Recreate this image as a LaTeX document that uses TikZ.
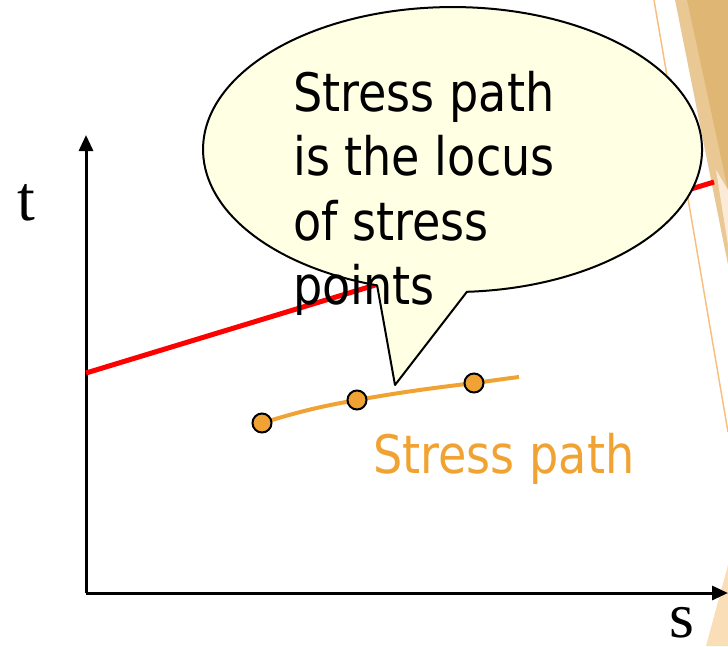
\documentclass[tikz,border=0pt]{standalone}
\usepackage{fontspec}
\setmainfont{Liberation Serif}
\newfontfamily\tah[FakeStretch=0.87]{DejaVu Sans}
\usetikzlibrary{arrows.meta}
\definecolor{calloutfill}{RGB}{255,255,228}
\definecolor{pathorange}{RGB}{240,163,50}
\definecolor{decoline}{RGB}{248,192,128}
\definecolor{darktan}{RGB}{224,182,116}
\definecolor{lighttan}{RGB}{234,200,148}
\definecolor{paletan}{RGB}{250,234,214}
\definecolor{peach}{RGB}{249,222,184}
\tikzset{
  axisline/.style={line width=3pt,-{Triangle[length=16pt,width=14pt]}},
  envelope/.style={red,line width=5pt},
  callout/.style={fill=calloutfill,draw=black,line width=2pt,line join=round},
  stresspath/.style={pathorange,line width=4pt},
  stresspt/.style={circle,fill=pathorange,draw=black,line width=2pt,minimum size=19pt,inner sep=0pt},
  bubbletext/.style={anchor=base west,inner sep=0pt,font=\tah\fontsize{53}{64}\selectfont},
  axislabel/.style={anchor=base west,inner sep=0pt,font=\fontsize{64}{64}\selectfont}
}
\begin{document}
\begin{tikzpicture}[x=1pt,y=-1pt]
\useasboundingbox (0,0) rectangle (728,646);
% decorative shapes at the right edge
\fill[lighttan] (675,0) -- (728,0) -- (728,265) -- cycle;
\fill[darktan] (687,0) -- (728,0) -- (728,190) -- cycle;
\fill[paletan] (716,170) -- (728,190) -- (728,245) -- cycle;
\fill[peach] (728,565) -- (728,646) -- (706,646) -- cycle;
\draw[decoline,line width=1.5pt] (654,0) -- (728,432);
% axes
\coordinate (O) at (86,593);
\coordinate (ytop) at (86,135);
\coordinate (xend) at (728,593);
\draw[axisline] (O) -- (ytop);
\draw[axisline] (O) -- (xend);
\node[axislabel] (tlab) at (17,220) {t};
\node[axislabel] (slab) at (669,637) {s};
% failure envelope
\coordinate (e1) at (86,373);
\coordinate (e2) at (714,182);
\draw[envelope] (e1) -- (e2);
% stress path
\coordinate (p4) at (519,377);
\coordinate (c1) at (262,423);
\coordinate (c2) at (357,400);
\coordinate (c3) at (474,383);
\draw[stresspath] (c1) to[out=17,in=190] (c2) to[out=10,in=187] (c3) to[out=7,in=187] (p4);
\node[stresspt] (p1) at (c1) {};
\node[stresspt] (p2) at (c2) {};
\node[stresspt] (p3) at (c3) {};
\node[bubbletext,text=pathorange] (sp) at (373,473) {Stress path};
% callout
\coordinate (rb) at (466.9,291.8);
\coordinate (tip) at (395,385);
\path[callout] (rb) arc[start angle=86.7, end angle=-252.4, x radius=249.5, y radius=142.5] -- (tip) -- cycle;
\node[bubbletext] (l1) at (293,111) {Stress path};
\node[bubbletext] (l2) at (293,175.5) {is the locus};
\node[bubbletext] (l3) at (293,240) {of stress};
\node[bubbletext] (l4) at (293,304.5) {points};
\end{tikzpicture}
\end{document}
